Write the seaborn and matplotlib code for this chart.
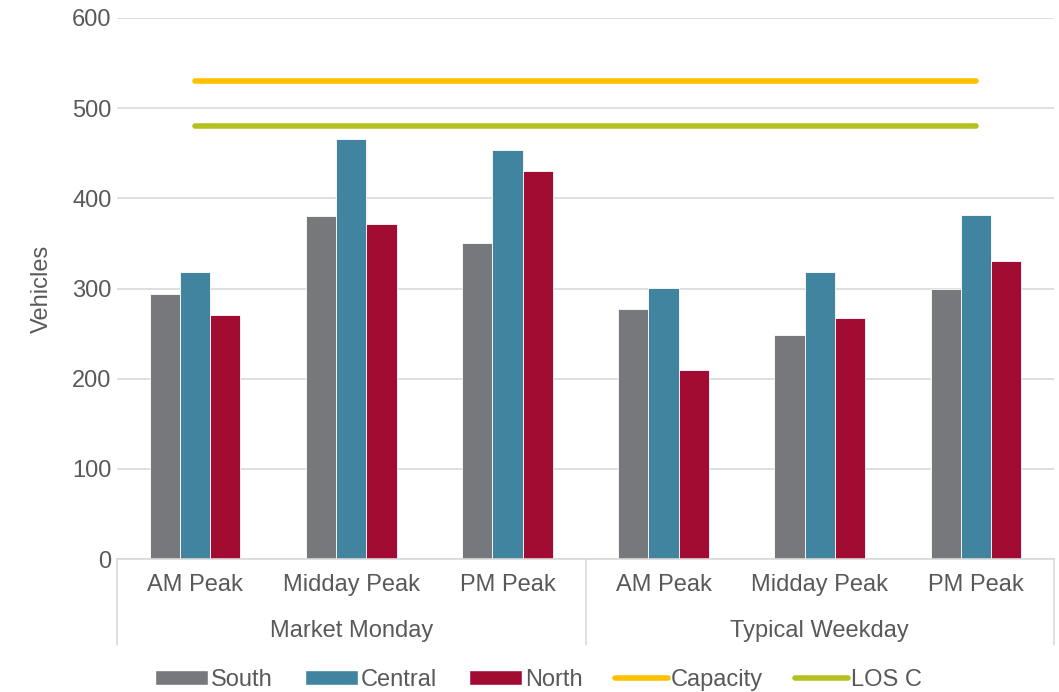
import matplotlib
matplotlib.use("Agg")
import matplotlib.pyplot as plt
import matplotlib.transforms as mtransforms
from matplotlib.patches import Patch
from matplotlib.lines import Line2D
import numpy as np
import pandas as pd
import seaborn as sns

# data
periods = ['AM Peak', 'Midday Peak', 'PM Peak', 'AM Peak', 'Midday Peak', 'PM Peak']
day_groups = ['Market Monday', 'Typical Weekday']
south = [294, 380, 350, 277, 248, 300]
central = [318, 466, 454, 301, 318, 381]
north = [271, 372, 430, 210, 267, 330]
capacity = 530
los_c = 480

colors = {'South': '#77787B', 'Central': '#41849F', 'North': '#A20C33'}
cap_color = '#FFC000'
los_color = '#B5C11D'
text_color = '#595959'
grid_color = '#D9D9D9'
fs = 17

sns.set_style('white')
plt.rcParams['font.family'] = ['Liberation Sans', 'DejaVu Sans']
plt.rcParams['font.size'] = fs

slots = [f'{i}' for i in range(len(periods))]
df = pd.DataFrame({
    'slot': slots * 3,
    'value': south + central + north,
    'direction': ['South'] * 6 + ['Central'] * 6 + ['North'] * 6,
})

fig = plt.figure(figsize=(10.59, 6.92), dpi=100)
ax = fig.add_axes([117 / 1059, 1 - 559 / 692, (1054 - 117) / 1059, (559 - 18) / 692])

sns.barplot(data=df, x='slot', y='value', hue='direction', palette=colors,
            width=0.58, ax=ax, legend=False, edgecolor='white', linewidth=0.6,
            saturation=1)

ax.hlines(capacity, 0, len(periods) - 1, color=cap_color, lw=4, capstyle='round', zorder=3)
ax.hlines(los_c, 0, len(periods) - 1, color=los_color, lw=4, capstyle='round', zorder=3)

ax.set_xlim(-0.5, len(periods) - 0.5)
ax.set_ylim(0, 600)
ax.set_yticks(np.arange(0, 601, 100))
ax.yaxis.grid(True, color=grid_color, lw=1.2)
ax.set_axisbelow(True)
for s in ['top', 'right', 'left']:
    ax.spines[s].set_visible(False)
ax.spines['bottom'].set_color(grid_color)
ax.spines['bottom'].set_linewidth(1.2)

ax.set_xticks(range(len(periods)))
ax.set_xticklabels(periods, color=text_color, fontsize=fs)
ax.tick_params(axis='x', length=0, pad=11)
ax.tick_params(axis='y', length=0, pad=4, labelcolor=text_color, labelsize=fs)
ax.set_xlabel('')
ax.set_ylabel('Vehicles', color=text_color, fontsize=fs, labelpad=14)

# second level of the category axis
trans = mtransforms.blended_transform_factory(ax.transData, ax.transAxes)
n_per = len(periods) // len(day_groups)
for g, name in enumerate(day_groups):
    center = g * n_per + (n_per - 1) / 2
    ax.text(center, -0.133, name, transform=trans, ha='center', va='center',
            color=text_color, fontsize=fs)
for b in range(len(day_groups) + 1):
    xb = b * n_per - 0.5
    ax.plot([xb, xb], [0, -0.159], transform=trans, color=grid_color, lw=1.2,
            clip_on=False)

handles = [Patch(facecolor=colors[k], label=k) for k in ['South', 'Central', 'North']]
handles += [Line2D([0], [0], color=cap_color, lw=4, label='Capacity'),
            Line2D([0], [0], color=los_color, lw=4, label='LOS C')]
leg = fig.legend(handles=handles, loc='center', bbox_to_anchor=(0.5085, 1 - 680 / 692),
                 ncol=5, frameon=False, fontsize=fs, handlelength=2.25,
                 handletextpad=0.13, columnspacing=1.35, handleheight=0.6)
for t in leg.get_texts():
    t.set_color(text_color)

fig.savefig('out.png', dpi=100)
